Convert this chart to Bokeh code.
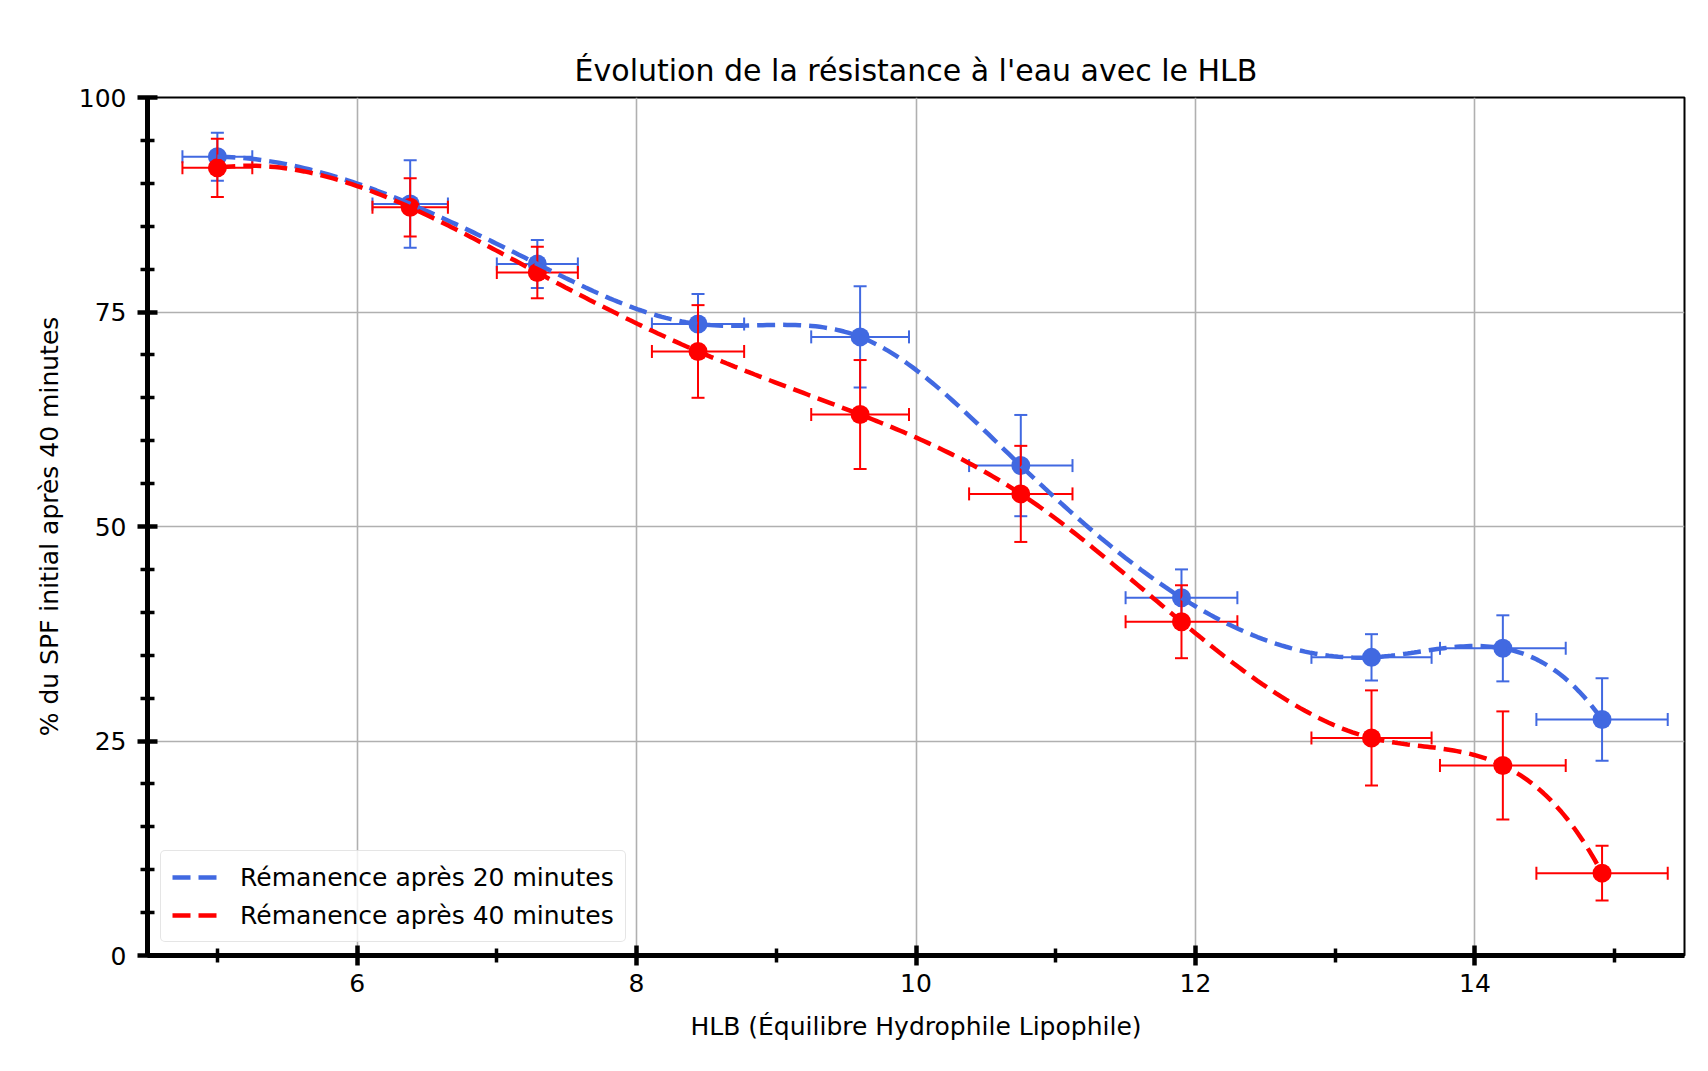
import numpy as np
from bokeh.plotting import figure
from bokeh.models import FixedTicker, Legend, LegendItem, ColumnDataSource
from bokeh.embed import file_html
from bokeh.resources import INLINE

# ---- data ----
hlb = [5.0, 6.38, 7.29, 8.44, 9.60, 10.75, 11.90, 13.26, 14.20, 14.91]
hlb_err = [0.25, 0.27, 0.29, 0.33, 0.35, 0.37, 0.40, 0.43, 0.45, 0.47]

rem_20 = [93.1, 87.6, 80.6, 73.6, 72.1, 57.1, 41.7, 34.75, 35.8, 27.5]
rem_20_err = [2.8, 5.1, 2.8, 3.5, 5.9, 5.9, 3.3, 2.7, 3.85, 4.8]

rem_40 = [91.8, 87.2, 79.6, 70.4, 63.05, 53.8, 38.9, 25.35, 22.15, 9.6]
rem_40_err = [3.4, 3.4, 3.0, 5.4, 6.35, 5.6, 4.25, 5.55, 6.3, 3.2]

labels = ["Rémanence après 20 minutes", "Rémanence après 40 minutes"]
title_text = "Évolution de la résistance à l'eau avec le HLB"
x_label = "HLB (Équilibre Hydrophile Lipophile)"
y_label = "% du SPF initial après 40 minutes"

x_major = [6, 8, 10, 12, 14]
x_minor = [5, 7, 9, 11, 13, 15]
y_major = [0, 25, 50, 75, 100]
y_minor = [5, 10, 15, 20, 30, 35, 40, 45, 55, 60, 65, 70, 80, 85, 90, 95]

BLUE = "#4169E1"
RED = "#FF0000"
FONT = "DejaVu Sans"


def smooth_curve(xs, ys, per_seg=40):
    """Not-a-knot cubic spline through the measured points (for the smooth dashed line)."""
    xs = np.asarray(xs, float)
    ys = np.asarray(ys, float)
    n = len(xs)
    h = np.diff(xs)
    A = np.zeros((n, n))
    b = np.zeros(n)
    A[0, 0], A[0, 1], A[0, 2] = h[1], -(h[0] + h[1]), h[0]
    A[-1, -3], A[-1, -2], A[-1, -1] = h[-1], -(h[-2] + h[-1]), h[-2]
    for i in range(1, n - 1):
        A[i, i - 1] = h[i - 1]
        A[i, i] = 2 * (h[i - 1] + h[i])
        A[i, i + 1] = h[i]
        b[i] = 6 * ((ys[i + 1] - ys[i]) / h[i] - (ys[i] - ys[i - 1]) / h[i - 1])
    M = np.linalg.solve(A, b)
    out_x, out_y = [], []
    for i in range(n - 1):
        t = np.linspace(xs[i], xs[i + 1], per_seg, endpoint=(i == n - 2))
        hi = h[i]
        s = (M[i] * (xs[i + 1] - t) ** 3 / (6 * hi) + M[i + 1] * (t - xs[i]) ** 3 / (6 * hi)
             + (ys[i] / hi - M[i] * hi / 6) * (xs[i + 1] - t)
             + (ys[i + 1] / hi - M[i + 1] * hi / 6) * (t - xs[i]))
        out_x.append(t)
        out_y.append(s)
    return np.concatenate(out_x), np.concatenate(out_y)


p = figure(frame_width=1537, frame_height=858, x_range=(4.5, 15.5), y_range=(0, 100),
           output_backend="svg", toolbar_location=None,
           min_border_left=147, min_border_right=8, min_border_top=97, min_border_bottom=100,
           title=title_text)

p.title.align = "center"
p.title.text_font = FONT
p.title.text_font_size = "30px"
p.title.text_font_style = "normal"
p.title.text_color = "black"
p.title.standoff = 20

p.outline_line_color = "black"
p.outline_line_width = 2
p.outline_line_alpha = 1

for ax in (p.xaxis[0], p.yaxis[0]):
    ax.axis_line_width = 5
    ax.axis_line_color = "black"
    ax.major_tick_line_width = 4.5
    ax.major_tick_line_color = "black"
    ax.minor_tick_line_width = 3.5
    ax.minor_tick_line_color = "black"
    ax.major_tick_in = 10
    ax.major_tick_out = 10
    ax.minor_tick_in = 7
    ax.minor_tick_out = 7
    ax.major_label_text_font = FONT
    ax.major_label_text_font_size = "25px"
    ax.major_label_text_color = "black"
    ax.axis_label_text_font = FONT
    ax.axis_label_text_font_size = "25px"
    ax.axis_label_text_font_style = "normal"
    ax.axis_label_text_color = "black"

p.xaxis.ticker = FixedTicker(ticks=x_major, minor_ticks=x_minor)
p.yaxis.ticker = FixedTicker(ticks=y_major, minor_ticks=y_minor)
p.xaxis.axis_label = x_label
p.yaxis.axis_label = y_label
p.xaxis.major_label_standoff = 8
p.yaxis.major_label_standoff = 11
p.xaxis.axis_label_standoff = 17
p.yaxis.axis_label_standoff = 12

p.xgrid.grid_line_color = "#b0b0b0"
p.ygrid.grid_line_color = "#b0b0b0"
p.xgrid.grid_line_width = 1.6
p.ygrid.grid_line_width = 1.6

x = np.array(hlb)
xe = np.array(hlb_err)


def errorbars(y, ye, color):
    y = np.array(y)
    ye = np.array(ye)
    src = ColumnDataSource(dict(x=x, y=y, xl=x - xe, xh=x + xe, yl=y - ye, yh=y + ye))
    p.segment(x0="x", y0="yl", x1="x", y1="yh", source=src, line_color=color, line_width=2)
    p.segment(x0="xl", y0="y", x1="xh", y1="y", source=src, line_color=color, line_width=2)
    p.scatter(x="x", y="yl", source=src, marker="dash", size=13, line_color=color, line_width=2)
    p.scatter(x="x", y="yh", source=src, marker="dash", size=13, line_color=color, line_width=2)
    p.scatter(x="xl", y="y", source=src, marker="dash", angle=np.pi / 2, size=13,
              line_color=color, line_width=2)
    p.scatter(x="xh", y="y", source=src, marker="dash", angle=np.pi / 2, size=13,
              line_color=color, line_width=2)
    p.scatter(x="x", y="y", source=src, marker="circle", size=19, fill_color=color,
              line_color=color, line_width=0)


errorbars(rem_20, rem_20_err, BLUE)
errorbars(rem_40, rem_40_err, RED)

curves = []
for yv, color in ((rem_20, BLUE), (rem_40, RED)):
    cx, cy = smooth_curve(hlb, yv)
    r = p.line(x=cx, y=cy, line_color=color, line_width=4.5, line_dash="18 8")
    curves.append(r)

legend = Legend(items=[LegendItem(label=labels[0], renderers=[curves[0]]),
                       LegendItem(label=labels[1], renderers=[curves[1]])],
                location="bottom_left")
legend.margin = 13
legend.padding = 11
legend.spacing = 8
legend.glyph_width = 46
legend.glyph_height = 30
legend.label_height = 30
legend.label_standoff = 22
legend.label_text_font = FONT
legend.label_text_font_size = "25px"
legend.label_text_color = "black"
legend.border_line_color = "#cccccc"
legend.border_line_width = 1.5
legend.border_radius = 5
legend.background_fill_alpha = 0.8
p.add_layout(legend, "center")

open("out.html", "w").write(file_html(p, INLINE))
